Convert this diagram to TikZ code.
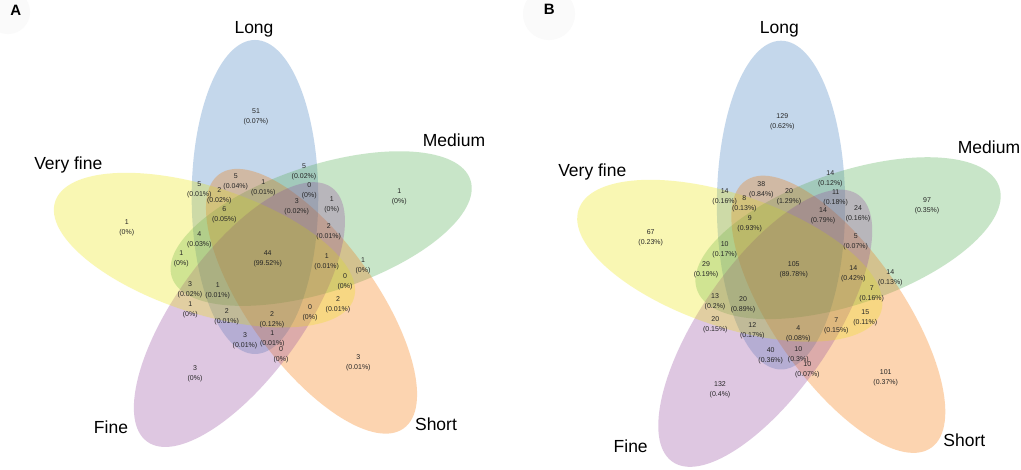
\documentclass[tikz,border=0pt]{standalone}
\usepackage{fontspec}
\setmainfont{Liberation Sans}
\definecolor{cLong}{RGB}{139,177,217}
\definecolor{cMed}{RGB}{147,205,147}
\definecolor{cShort}{RGB}{251,171,99}
\definecolor{cFine}{RGB}{191,145,197}
\definecolor{cVF}{RGB}{245,241,105}
\tikzset{
  vset/.style={fill opacity=0.5, draw=none},
  num/.style={font=\fontsize{7}{10}\selectfont, align=center, inner sep=0pt, text=black!85},
  cat/.style={font=\fontsize{17.5}{20}\selectfont, inner sep=0pt},
  panel/.style={font=\fontsize{15}{18}\selectfont\bfseries, inner sep=0pt},
}
\newcommand{\vennsets}{%
  \foreach \k/\c in {0/cLong,1/cMed,2/cShort,3/cFine,4/cVF}{
    \fill[vset, fill=\c, shift={(266.3,258.3)}, rotate=-72*\k]
      (-11.33,-61.33) ellipse [x radius=63.3pt, y radius=157pt];
  }
  \foreach \k/\c in {0/cLong,1/cMed,2/cShort,3/cFine,4/cVF}{
    \fill[vset, fill=\c, shift={(792.5,269.3)}, xscale=1.0135, yscale=1.047, rotate=-72*\k]
      (-11.33,-61.33) ellipse [x radius=63.3pt, y radius=157pt];
  }%
}
\begin{document}
\begin{tikzpicture}[x=1pt,y=-1pt]
\useasboundingbox (0,0) rectangle (1021,469);
\fill[white] (0,0) rectangle (1021,469);
% multiplied layer
\begin{scope}[blend mode=multiply]
\vennsets
\end{scope}
% normal layer, mixed half over it
\begin{scope}[transparency group, opacity=0.5]
\fill[white] (0,0) rectangle (1021,469);
\vennsets
\end{scope}
\fill[black!2] (8,12) circle (22pt);
\fill[black!2] (549,14) circle (26pt);
% Panel A labels
\node[panel] (pA) at (15.7,10) {A};
\node[cat] (aLong) at (254,29.3) {Long};
\node[cat] (aMed) at (454,140) {Medium};
\node[cat] (aVF) at (68.3,165) {Very fine};
\node[cat] (aFine) at (111,427.7) {Fine};
\node[cat] (aShort) at (436,424) {Short};
\node[num] (a1) at (256,116.7) {51\\(0.07\%)};
\node[num] (a2) at (399.3,197.3) {1\\(0\%)};
\node[num] (a3) at (126.7,228) {1\\(0\%)};
\node[num] (a4) at (195,373.7) {3\\(0\%)};
\node[num] (a5) at (358.3,362.3) {3\\(0.01\%)};
\node[num] (a6) at (304,172.3) {5\\(0.02\%)};
\node[num] (a7) at (235.7,181.7) {5\\(0.04\%)};
\node[num] (a8) at (263.3,188.3) {1\\(0.01\%)};
\node[num] (a9) at (309.3,190.3) {0\\(0\%)};
\node[num] (a10) at (199.3,189.7) {5\\(0.01\%)};
\node[num] (a11) at (219.3,195.3) {2\\(0.02\%)};
\node[num] (a12) at (296.7,206.7) {3\\(0.02\%)};
\node[num] (a13) at (331.7,205) {1\\(0\%)};
\node[num] (a14) at (224.3,214.7) {6\\(0.05\%)};
\node[num] (a15) at (328.7,231.7) {2\\(0.01\%)};
\node[num] (a16) at (199.3,239.7) {4\\(0.03\%)};
\node[num] (a17) at (181.3,258.7) {1\\(0\%)};
\node[num] (a18) at (267.7,258.7) {44\\(99.52\%)};
\node[num] (a19) at (326.7,262.3) {1\\(0.01\%)};
\node[num] (a20) at (363,266.3) {1\\(0\%)};
\node[num] (a21) at (345,281.7) {0\\(0\%)};
\node[num] (a22) at (190,289.3) {3\\(0.02\%)};
\node[num] (a23) at (217.7,291) {1\\(0.01\%)};
\node[num] (a24) at (338,304.7) {2\\(0.01\%)};
\node[num] (a25) at (190.3,310.3) {1\\(0\%)};
\node[num] (a26) at (226.7,317) {2\\(0.01\%)};
\node[num] (a27) at (272,320) {2\\(0.12\%)};
\node[num] (a28) at (310,312.3) {0\\(0\%)};
\node[num] (a29) at (245,340.7) {3\\(0.01\%)};
\node[num] (a30) at (272.3,339.3) {1\\(0.01\%)};
\node[num] (a31) at (281,354.7) {0\\(0\%)};
% Panel B labels
\node[panel] (pB) at (549.3,9.3) {B};
\node[cat] (bLong) at (779.3,29.3) {Long};
\node[cat] (bMed) at (989,147.3) {Medium};
\node[cat] (bVF) at (592.3,171.7) {Very fine};
\node[cat] (bFine) at (630.7,446.7) {Fine};
\node[cat] (bShort) at (964.3,440.7) {Short};
\node[num] (b1) at (782.3,121.3) {129\\(0.62\%)};
\node[num] (b2) at (927,205.7) {97\\(0.35\%)};
\node[num] (b3) at (650.7,237.7) {67\\(0.23\%)};
\node[num] (b4) at (720,390) {132\\(0.4\%)};
\node[num] (b5) at (885.7,378) {101\\(0.37\%)};
\node[num] (b6) at (830.3,179.3) {14\\(0.12\%)};
\node[num] (b7) at (761.3,189.3) {38\\(0.84\%)};
\node[num] (b8) at (789,196.7) {20\\(1.29\%)};
\node[num] (b9) at (835.7,198.3) {11\\(0.18\%)};
\node[num] (b10) at (724.7,197.3) {14\\(0.16\%)};
\node[num] (b11) at (744.3,203.7) {8\\(0.13\%)};
\node[num] (b12) at (823,215.7) {14\\(0.79\%)};
\node[num] (b13) at (858,213.7) {24\\(0.16\%)};
\node[num] (b14) at (749.7,224) {9\\(0.93\%)};
\node[num] (b15) at (855.7,241.7) {5\\(0.07\%)};
\node[num] (b16) at (724.7,250) {10\\(0.17\%)};
\node[num] (b17) at (706,270) {29\\(0.19\%)};
\node[num] (b18) at (793.7,270) {105\\(89.78\%)};
\node[num] (b19) at (853.3,274) {14\\(0.42\%)};
\node[num] (b20) at (890.3,278) {14\\(0.13\%)};
\node[num] (b21) at (871.7,294) {7\\(0.16\%)};
\node[num] (b22) at (715,302) {13\\(0.2\%)};
\node[num] (b23) at (743,304.3) {20\\(0.89\%)};
\node[num] (b24) at (865.3,318) {15\\(0.11\%)};
\node[num] (b25) at (715.3,324.3) {20\\(0.15\%)};
\node[num] (b26) at (752.3,331) {12\\(0.17\%)};
\node[num] (b27) at (798.3,334.3) {4\\(0.08\%)};
\node[num] (b28) at (836.3,326) {7\\(0.15\%)};
\node[num] (b29) at (770.7,356) {40\\(0.36\%)};
\node[num] (b30) at (798.3,354.7) {10\\(0.3\%)};
\node[num] (b31) at (807.3,370) {10\\(0.07\%)};
\end{tikzpicture}
\end{document}
